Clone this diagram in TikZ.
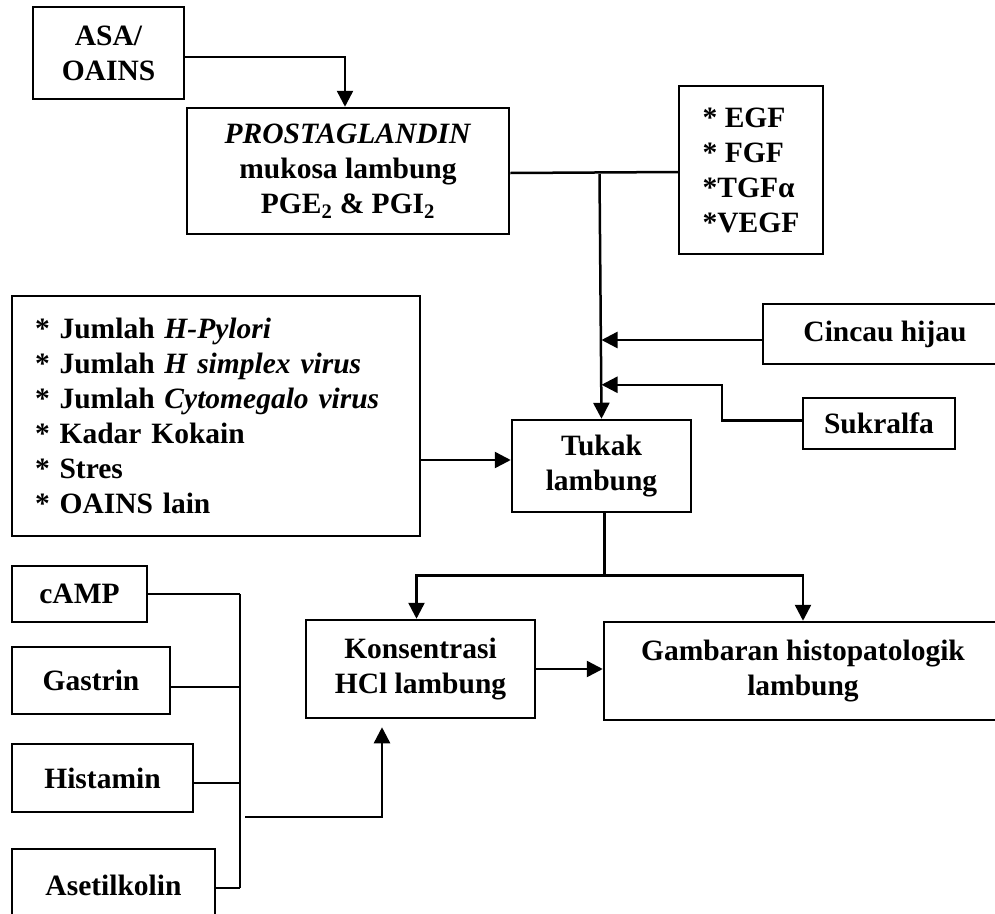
\documentclass[tikz,border=0pt]{standalone}
\usepackage{fontspec}
\setmainfont{Liberation Serif}
\usetikzlibrary{arrows.meta,calc}
\begin{document}
\begin{tikzpicture}[x=1pt,y=-1pt,
  box/.style={draw, line width=2.5pt, inner sep=0pt, align=center,
    font=\bfseries\fontsize{29.5}{35}\selectfont},
  ln/.style={line width=2.5pt},
  arr/.style={line width=2.5pt, -{Triangle[width=16pt,length=16pt]}}]
\useasboundingbox (0,0) rectangle (995,913);
\clip (0,0) rectangle (995,913);
% nodes
\node[box, minimum width=151pt, minimum height=92pt] (asa) at (108.5,53) {ASA/\\OAINS};
\node[box, minimum width=322pt, minimum height=126pt] (prost) at (348,171)
  {\textit{PROSTAGLANDIN}\\mukosa lambung\\PGE\textsubscript{2} \& PGI\textsubscript{2}};
\node[box, minimum width=144pt, minimum height=168pt, align=left] (egf) at (751,170)
  {{}* EGF\\{}* FGF\\{}*TGFα\\{}*VEGF};
\node[box, minimum width=244pt, minimum height=60pt] (cincau) at (885,334) {Cincau hijau};
\node[box, minimum width=152pt, minimum height=51pt] (suk) at (879,423.5) {Sukralfa};
\node[box, minimum width=408pt, minimum height=240pt, text width=362pt, inner xsep=23pt, align=left] (fak) at (216,416)
  {{}* Jumlah \textit{H-Pylori}\\{}* Jumlah \textit{H simplex virus}\\{}* Jumlah \textit{Cytomegalo virus}\\{}* Kadar Kokain\\{}* Stres\\{}* OAINS lain};
\node[box, minimum width=179pt, minimum height=92pt] (tukak) at (601.5,466) {Tukak\\lambung};
\node[box, minimum width=229pt, minimum height=98pt] (kons) at (420.5,669) {Konsentrasi\\HCl lambung};
\node[box, minimum width=398pt, minimum height=98pt] (gamb) at (803,671) {Gambaran histopatologik\\lambung};
\node[box, minimum width=135pt, minimum height=56pt] (camp) at (79.5,594) {cAMP};
\node[box, minimum width=158pt, minimum height=67pt] (gas) at (91,680.5) {Gastrin};
\node[box, minimum width=181pt, minimum height=68pt] (his) at (102.5,778) {Histamin};
\node[box, minimum width=203pt, minimum height=72pt] (ase) at (113.5,885) {Asetilkolin};
% connectors
\draw[arr] ([yshift=-4pt]asa.east) -| ([xshift=-3pt]prost.north);
\draw[ln] ([yshift=-2pt]prost.east) -- ([yshift=-2pt]egf.west);
\coordinate (j1) at ($(tukak.north |- prost.east)+(-2,3)$);
\draw[arr] (j1) -- (tukak.north);
\draw[arr] ([yshift=-6pt]cincau.west) -- ([yshift=-6pt]cincau.west -| tukak.north);
\draw[arr] ([yshift=3pt]suk.west) -- ++(-80,0) |- ($(tukak.north)+(0,-34)$);
\draw[arr] (fak.east |- 0,460) -- (tukak.west |- 0,460);
\draw[ln] ([xshift=3pt]tukak.south) -- ++(0,62) coordinate (split);
\draw[arr] (split) -| ([xshift=-4pt]kons.north);
\draw[arr] (split) -| (gamb.north);
\draw[arr] (kons.east) -- (kons.east -| gamb.west);
\coordinate (bus) at (240,594);
\coordinate (busb) at (240,888);
\draw[ln] (bus) -- (busb);
\draw[ln] (camp.east) -- (camp.east -| bus);
\draw[ln] ([yshift=-6.5pt]gas.east) -- ([yshift=-6.5pt]gas.east -| bus);
\draw[ln] ([yshift=-5pt]his.east) -- ([yshift=-5pt]his.east -| bus);
\draw[ln] ([yshift=-3pt]ase.east) -- ([yshift=-3pt]ase.east -| bus);
\draw[arr] ($(bus |- 0,817)+(5,0)$) -| ($(kons.south)+(-38.5,8)$);
\end{tikzpicture}
\end{document}
